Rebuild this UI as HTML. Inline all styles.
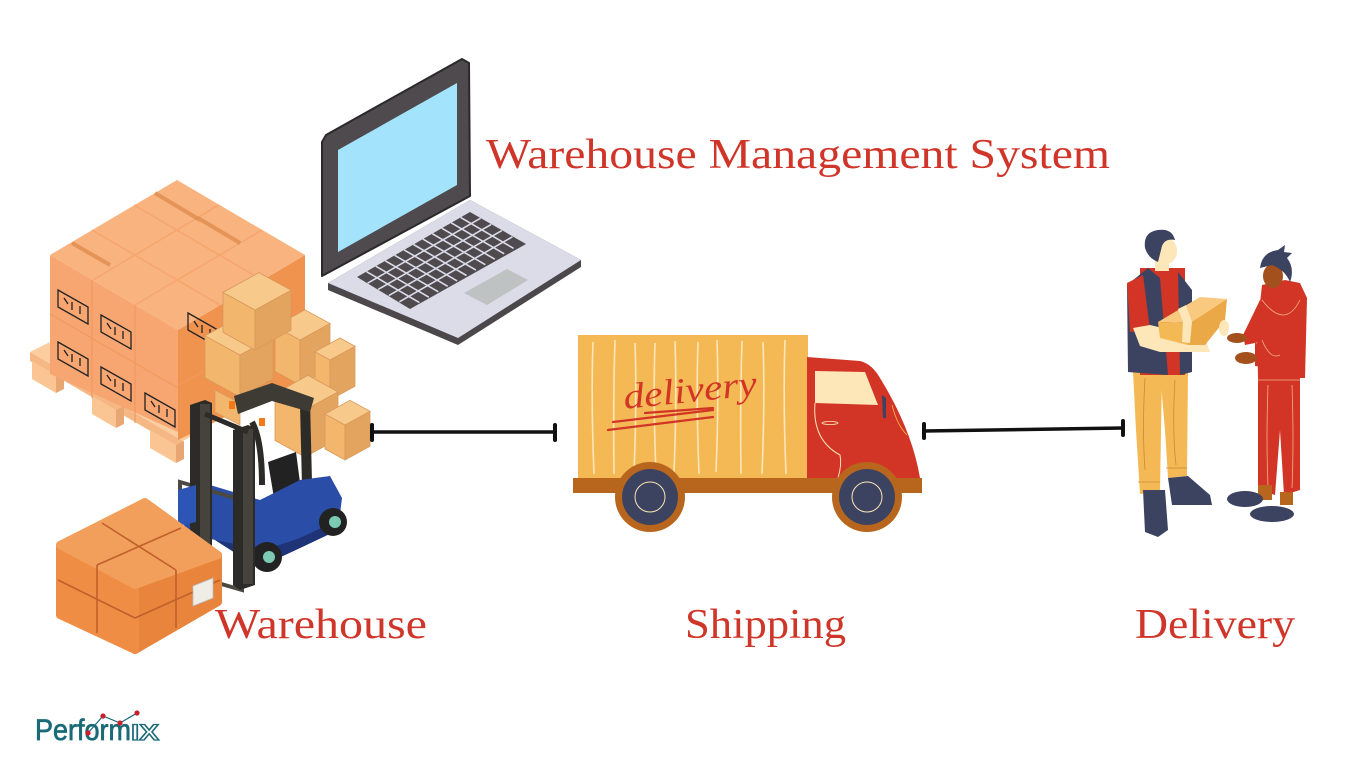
<!DOCTYPE html>
<html><head><meta charset="utf-8"><style>
html,body{margin:0;padding:0;background:#fff;}
svg{display:block}
.lbl{font-family:"Liberation Serif",serif;fill:#d0352a;}
</style></head><body>
<svg width="1366" height="768" viewBox="0 0 1366 768" xmlns="http://www.w3.org/2000/svg">
<rect width="1366" height="768" fill="#fff"/>

<!-- ===== Laptop ===== -->
<polygon points="328,283 470,200 581,260 581,267 458,345 328,290" fill="#4b474b"/>
<polygon points="328,283 470,200 581,260 458,338" fill="#dcdbe8"/>
<polygon points="322,142 326,135 462,59 469,63 470,196 322,276" fill="#4e4a4e" stroke="#2b292b" stroke-width="2" stroke-linejoin="round"/>
<polygon points="338,150 457,83 457,185 338,252" fill="#a3e3fb"/>
<polygon points="357,277 470,212 526,244 410,309" fill="#4e4a4e"/>
<g stroke="#dcdbe8" stroke-width="1.6">
<line x1="367.6" y1="283.2" x2="480.6" y2="218.2"/>
<line x1="378.2" y1="289.4" x2="491.2" y2="224.4"/>
<line x1="388.8" y1="295.6" x2="501.8" y2="230.6"/>
<line x1="399.4" y1="301.8" x2="512.4" y2="236.8"/>
<line x1="366.4" y1="271.6" x2="419.4" y2="302.6"/>
<line x1="375.8" y1="266.2" x2="428.8" y2="297.2"/>
<line x1="385.3" y1="260.8" x2="438.3" y2="291.8"/>
<line x1="394.7" y1="255.3" x2="447.7" y2="286.3"/>
<line x1="404.1" y1="249.9" x2="457.1" y2="280.9"/>
<line x1="413.5" y1="244.5" x2="466.5" y2="275.5"/>
<line x1="422.9" y1="239.1" x2="475.9" y2="270.1"/>
<line x1="432.3" y1="233.7" x2="485.3" y2="264.7"/>
<line x1="441.8" y1="228.2" x2="494.8" y2="259.2"/>
<line x1="451.2" y1="222.8" x2="504.2" y2="253.8"/>
<line x1="460.6" y1="217.4" x2="513.6" y2="248.4"/>
</g>
<polygon points="464,293 507,269 528,280 487,305" fill="#bfc2c3"/>

<!-- ===== Pallet ===== -->
<polygon points="30,352 52,341 205,429 183,441" fill="#fccd9f"/>
<polygon points="30,352 183,441 183,450 30,361" fill="#f5b884"/>
<polygon points="32,361 56,375 56,393 32,379" fill="#fbc593"/>
<polygon points="56,375 64,371 64,389 56,393" fill="#e8a672"/>
<polygon points="92,396 116,410 116,428 92,414" fill="#fbc593"/>
<polygon points="116,410 124,406 124,424 116,428" fill="#e8a672"/>
<polygon points="150,430 176,445 176,463 150,448" fill="#fbc593"/>
<polygon points="176,445 184,441 184,459 176,463" fill="#e8a672"/>

<!-- ===== Big box stack ===== -->
<polygon points="178,330 305,255 305,378 178,440" fill="#f0934f"/>
<polygon points="50,255 178,330 178,432 50,374" fill="#f7a672"/>
<polygon points="50,255 177,180 305,255 178,330" fill="#f8b37e"/>
<g stroke="#f19a5e" stroke-width="1.2">
<line x1="92" y1="280" x2="92" y2="398"/>
<line x1="135" y1="305" x2="135" y2="423"/>
<line x1="50" y1="314" x2="178" y2="388"/>
<line x1="243" y1="292" x2="243" y2="408"/>
<line x1="178" y1="385" x2="305" y2="318"/>
</g>
<g stroke="#f6a56e" stroke-width="1.5">
<line x1="93" y1="280" x2="219" y2="205"/>
<line x1="135" y1="305" x2="262" y2="230"/>
<line x1="92" y1="230" x2="220" y2="305"/>
<line x1="134" y1="205" x2="262" y2="280"/>
</g>
<g stroke="#d98040" stroke-width="4" opacity="0.6">
<line x1="72" y1="243" x2="110" y2="265"/>
<line x1="155" y1="193" x2="200" y2="220"/>
<line x1="198" y1="218" x2="240" y2="243"/>
</g>
<g fill="none" stroke="#222" stroke-width="1.3">
<polygon points="58,290 88,307 88,324 58,307"/>
<polygon points="101,315 131,332 131,349 101,332"/>
<polygon points="58,342 88,359 88,376 58,359"/>
<polygon points="101,367 131,384 131,401 101,384"/>
<polygon points="145,393 175,410 175,427 145,410"/>
<polygon points="188,313 218,330 218,347 188,330"/>
<path d="M64,298 l4,6 M72,302 l0,8 M80,306 l0,8 M107,323 l4,6 M115,327 l0,8 M123,331 l0,8 M64,350 l4,6 M72,354 l0,8 M80,358 l0,8 M107,375 l4,6 M115,379 l0,8 M123,383 l0,8 M151,401 l4,6 M159,405 l0,8 M167,409 l0,8 M194,321 l4,6 M202,325 l0,8 M210,329 l0,8"/>
</g>

<!-- ===== Tan crates ===== -->
<g stroke="#d9995a" stroke-width="0.8">
<polygon points="275,326.3 300,340 300,385 275,371.3" fill="#f2b66d"/>
<polygon points="300,340 330,323.5 330,368.5 300,385" fill="#e2a45e"/>
<polygon points="275,326.3 305,309.8 330,323.5 300,340" fill="#f7c98a"/>
<polygon points="315,351.8 330,360 330,400 315,391.8" fill="#f2b66d"/>
<polygon points="330,360 355,346.3 355,386.3 330,400" fill="#e2a45e"/>
<polygon points="315,351.8 340,338 355,346.3 330,360" fill="#f7c98a"/>
<polygon points="205,335.8 240,355 240,397 205,377.8" fill="#f2b66d"/>
<polygon points="240,355 273,336.9 273,378.9 240,397" fill="#e2a45e"/>
<polygon points="205,335.8 238,317.6 273,336.9 240,355" fill="#f7c98a"/>
<polygon points="223,292.4 255,310 255,350 223,332.4" fill="#f2b66d"/>
<polygon points="255,310 291,290.2 291,330.2 255,350" fill="#e2a45e"/>
<polygon points="223,292.4 259,272.6 291,290.2 255,310" fill="#f7c98a"/>
<polygon points="215,390 240,403 240,425 215,412" fill="#f2b66d"/>
<polygon points="275,393.5 305,410 305,457 275,440.5" fill="#f2b66d"/>
<polygon points="305,410 338,391.9 338,438.9 305,457" fill="#e2a45e"/>
<polygon points="275,393.5 308,375.4 338,391.9 305,410" fill="#f7c98a"/>
<polygon points="325,414 345,425 345,460 325,449" fill="#f2b66d"/>
<polygon points="345,425 370,411.3 370,446.3 345,460" fill="#e2a45e"/>
<polygon points="325,414 350,400.3 370,411.3 345,425" fill="#f7c98a"/>
</g>

<!-- ===== Forklift ===== -->
<polygon points="300,405 310,400 312,482 302,486" fill="#2d2b27"/>
<path d="M252,422 Q262,440 262,485" stroke="#2d2b27" stroke-width="6" fill="none"/>
<polygon points="234,396 272,383 314,398 310,412 272,401 238,414" fill="#3d3b34"/>
<polygon points="268,462 296,452 302,498 276,510" fill="#222"/>
<polygon points="180,495 200,482 260,500 300,480 330,476 342,498 338,530 300,548 270,562 240,556 215,540 185,532" fill="#2a4da8"/>
<polygon points="215,540 240,556 270,562 300,548 338,530 338,520 300,538 270,548 240,545" fill="#1e3477"/>
<circle cx="333" cy="522" r="14" fill="#222"/>
<circle cx="335" cy="522" r="6" fill="#7ccab3"/>
<circle cx="267" cy="557" r="15" fill="#222"/>
<circle cx="269" cy="557" r="6" fill="#7ccab3"/>
<polygon points="180,482 242,500 242,590 180,572" fill="none" stroke="#4b4941" stroke-width="4"/>
<polygon points="190,405 205,400 212,403 212,585 197,590 190,585" fill="#2d2b27"/>
<rect x="200" y="404" width="10" height="180" fill="#45433b"/>
<polygon points="233,430 248,425 255,428 255,585 240,590 233,585" fill="#2d2b27"/>
<rect x="243" y="429" width="10" height="155" fill="#45433b"/>
<line x1="205" y1="414" x2="248" y2="432" stroke="#2d2b27" stroke-width="5"/>
<rect x="229" y="401" width="6" height="8" fill="#f27a1a"/>
<rect x="259" y="418" width="6" height="8" fill="#f27a1a"/>
<polygon points="178,490 196,485 196,522 178,526" fill="#2d55b5"/>

<!-- ===== Orange package ===== -->
<g stroke-linejoin="round" stroke-width="8">
<polygon points="135,585 218,555 218,602 135,650" fill="#e9843c" stroke="#e9843c"/>
<polygon points="60,545 135,585 135,650 60,615" fill="#ef8d45" stroke="#ef8d45"/>
<polygon points="60,545 145,502 218,555 135,585" fill="#f39f5c" stroke="#f39f5c"/>
</g>
<g stroke="#c0602c" stroke-width="1.6" fill="none">
<line x1="102" y1="523" x2="176" y2="570"/>
<line x1="97" y1="565" x2="181" y2="528"/>
<line x1="97" y1="565" x2="97" y2="633"/>
<line x1="58" y1="580" x2="135" y2="618"/>
<line x1="135" y1="618" x2="220" y2="580"/>
<line x1="176" y1="570" x2="176" y2="628"/>
</g>
<polygon points="193,586 213,578 213,598 193,606" fill="#f0ede6" stroke="#bbb" stroke-width="0.8"/>

<!-- ===== Truck ===== -->
<rect x="578" y="335" width="230" height="143" fill="#f4b955"/>
<g stroke="#fde7b9" stroke-width="1.6" fill="none">
<path d="M593,342 Q591,400 594,474"/>
<path d="M615,340 Q613,400 614,474"/>
<path d="M635,343 Q637,400 634,472"/>
<path d="M655,343 Q653,400 656,474"/>
<path d="M675,341 Q677,400 674,472"/>
<path d="M698,342 Q696,400 699,474"/>
<path d="M717,340 Q719,400 716,472"/>
<path d="M742,341 Q740,400 741,474"/>
<path d="M763,342 Q765,400 762,474"/>
<path d="M785,340 Q783,400 786,474"/>
</g>
<text x="624" y="402" font-family="Liberation Serif, serif" font-style="italic" font-size="36" fill="#d23525" textLength="134" lengthAdjust="spacingAndGlyphs" transform="rotate(-6 690 400)">delivery</text>
<g stroke="#d23525" stroke-width="2.2" stroke-linecap="round">
<line x1="608" y1="430" x2="713" y2="417"/>
<line x1="613" y1="422" x2="713" y2="410"/>
<line x1="645" y1="413" x2="713" y2="408"/>
</g>
<path d="M807,357 L860,361 Q872,364 880,378 Q912,430 920,478 L807,478 Z" fill="#d23525"/>
<polygon points="815,371 865,372 878,405 815,403" fill="#fde6b8"/>
<path d="M815,403 Q812,440 840,455 Q842,465 838,478" stroke="#fde6b8" stroke-width="1" fill="none"/>
<ellipse cx="830" cy="423" rx="8" ry="1.5" fill="none" stroke="#fde6b8" stroke-width="0.8"/>
<path d="M892,405 Q897,425 907,435" stroke="#f4b955" stroke-width="0.8" fill="none"/>
<path d="M882,395 L886,398 L886,418 L883,418 Z" fill="#3c4360"/>
<circle cx="650" cy="497" r="35" fill="#b8661e"/>
<circle cx="867" cy="497" r="35" fill="#b8661e"/>
<rect x="573" y="478" width="349" height="15" fill="#b8661e"/>
<circle cx="650" cy="497" r="28" fill="#3c4360"/>
<circle cx="650" cy="497" r="15" fill="none" stroke="#fde6b8" stroke-width="1"/>
<circle cx="867" cy="497" r="28" fill="#3c4360"/>
<circle cx="867" cy="497" r="15" fill="none" stroke="#fde6b8" stroke-width="1"/>

<!-- ===== People ===== -->
<polygon points="1133,372 1162,372 1160,492 1140,494 1136,430" fill="#f4b955"/>
<polygon points="1160,372 1188,372 1187,476 1168,478 1165,430" fill="#f4b955"/>
<g stroke="#c98a3a" stroke-width="0.8" fill="none">
<path d="M1145,378 Q1142,430 1145,470"/><path d="M1175,380 Q1172,430 1176,465"/>
<line x1="1138" y1="482" x2="1160" y2="482"/><line x1="1166" y1="468" x2="1187" y2="468"/>
</g>
<polygon points="1143,490 1165,490 1168,530 1158,537 1145,532" fill="#3c4360"/>
<polygon points="1168,478 1188,476 1210,495 1212,505 1172,505" fill="#3c4360"/>
<rect x="1140" y="268" width="45" height="107" fill="#d23525"/>
<polygon points="1127,285 1148,268 1160,278 1168,375 1128,372" fill="#3c4360"/>
<polygon points="1178,272 1192,290 1192,372 1180,375" fill="#3c4360"/>
<polygon points="1127,283 1143,275 1150,330 1130,332" fill="#d23525"/>
<polygon points="1133,328 1150,325 1205,338 1210,352 1160,352 1140,346" fill="#fde6b8"/>
<rect x="1155" y="255" width="14" height="16" fill="#fde6b8"/>
<ellipse cx="1166" cy="251" rx="11" ry="13" fill="#fde6b8"/>
<path d="M1145,248 Q1143,232 1158,230 Q1172,228 1175,240 Q1165,238 1162,246 L1158,262 Q1148,258 1145,248 Z" fill="#3c4360"/>
<polygon points="1158,322 1200,297 1227,299 1190,323" fill="#f8c97e"/>
<polygon points="1158,322 1190,323 1188,345 1160,338" fill="#f3b955"/>
<polygon points="1190,323 1227,299 1225,320 1205,345 1188,345" fill="#eaa846"/>
<polygon points="1178,309 1186,305 1192,322 1190,343 1182,342 1183,322" fill="#fde6b8"/>
<ellipse cx="1224" cy="328" rx="5" ry="8" fill="#fde6b8"/>
<polygon points="1258,378 1300,378 1300,490 1284,495 1280,430 1275,495 1258,490" fill="#d23525"/>
<g stroke="#f5b08a" stroke-width="0.8" fill="none">
<path d="M1268,385 Q1266,440 1268,485"/><path d="M1292,385 Q1294,440 1292,488"/>
<line x1="1258" y1="380" x2="1300" y2="380"/>
</g>
<rect x="1258" y="485" width="14" height="15" fill="#b8661e"/>
<rect x="1280" y="492" width="13" height="13" fill="#b8661e"/>
<ellipse cx="1245" cy="499" rx="18" ry="8" fill="#3c4360"/>
<ellipse cx="1272" cy="514" rx="22" ry="8" fill="#3c4360"/>
<polygon points="1262,285 1285,280 1300,283 1307,298 1305,378 1258,378 1257,330" fill="#d23525"/>
<polygon points="1260,300 1275,310 1270,340 1245,345 1243,335" fill="#d23525"/>
<ellipse cx="1237" cy="338" rx="10" ry="5" fill="#a4501c"/>
<polygon points="1255,343 1272,345 1272,368 1255,366" fill="#d23525"/>
<ellipse cx="1246" cy="358" rx="11" ry="6" fill="#a4501c"/>
<path d="M1262,300 Q1285,330 1300,300 M1262,340 Q1270,360 1280,355" stroke="#f5b08a" stroke-width="0.8" fill="none"/>
<ellipse cx="1273" cy="276" rx="10" ry="12" fill="#a4501c"/>
<path d="M1260,268 Q1262,252 1278,250 L1285,245 L1284,252 L1292,253 L1287,258 Q1295,268 1290,282 Q1285,270 1272,265 Z" fill="#3c4360"/>

<!-- ===== Connectors ===== -->
<g stroke="#111" stroke-linecap="round">
<line x1="372" y1="432" x2="555" y2="432" stroke-width="3.5"/>
<line x1="372" y1="425" x2="372" y2="440" stroke-width="4"/>
<line x1="555" y1="425" x2="555" y2="440" stroke-width="4"/>
<line x1="924" y1="431" x2="1123" y2="428" stroke-width="3.5"/>
<line x1="924" y1="424" x2="924" y2="438" stroke-width="4"/>
<line x1="1123" y1="421" x2="1123" y2="435" stroke-width="4"/>
</g>

<!-- ===== Labels ===== -->
<text class="lbl" x="486" y="168" font-size="42" textLength="624" lengthAdjust="spacingAndGlyphs">Warehouse Management System</text>
<text class="lbl" x="215" y="638" font-size="42" textLength="212" lengthAdjust="spacingAndGlyphs">Warehouse</text>
<text class="lbl" x="685" y="638" font-size="42" textLength="161" lengthAdjust="spacingAndGlyphs">Shipping</text>
<text class="lbl" x="1135" y="638" font-size="42" textLength="160" lengthAdjust="spacingAndGlyphs">Delivery</text>

<!-- ===== Logo ===== -->
<text x="35" y="740" font-family="Liberation Sans, sans-serif" font-size="30" fill="#1a6a78" stroke="#1a6a78" stroke-width="0.7" textLength="96" lengthAdjust="spacingAndGlyphs">Perform</text>
<text x="131" y="740" font-family="Liberation Sans, sans-serif" font-size="22" font-weight="bold" fill="#fff" stroke="#1a6a78" stroke-width="1.3" textLength="28" lengthAdjust="spacingAndGlyphs">IX</text>
<polyline points="88,733 103,716 120,723 137,713" fill="none" stroke="#1a6a78" stroke-width="1.2"/>
<circle cx="88" cy="733" r="2.6" fill="#c8202e"/>
<circle cx="103" cy="716" r="2.6" fill="#c8202e"/>
<circle cx="120" cy="723" r="2.6" fill="#c8202e"/>
<circle cx="137" cy="713" r="2.6" fill="#c8202e"/>
</svg>
</body></html>
